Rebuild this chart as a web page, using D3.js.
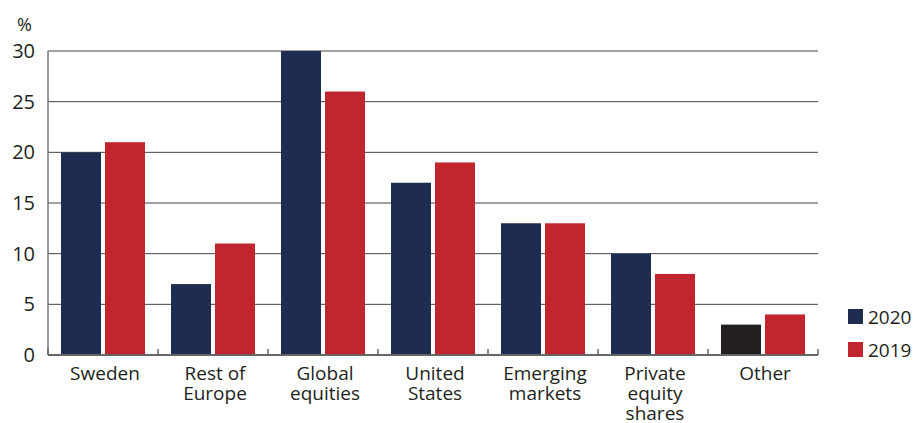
<!DOCTYPE html>
<html>
<head>
<meta charset="utf-8">
<script src="https://cdn.jsdelivr.net/npm/d3@7"></script>
<style>
  body { margin: 0; background: #fff; }
  svg text { font-family: "Open Sans", "Lato", sans-serif; fill: #231f20; }
</style>
</head>
<body>
<svg id="chart" width="918" height="423"></svg>
<script>
var categories = ["Sweden", "Rest of|Europe", "Global|equities", "United|States", "Emerging|markets", "Private|equity|shares", "Other"];
var values2020 = [20, 7, 30, 17, 13, 10, 3];
var values2019 = [21, 11, 26, 19, 13, 8, 4];
var yTicks = [0, 5, 10, 15, 20, 25, 30];
var seriesNames = ["2020", "2019"];

var navy = "#1e2d4f", red = "#c1262e", dark = "#231f20";

var svg = d3.select("#chart");
var plotLeft = 48, plotRight = 818, plotTop = 51, plotBottom = 355;

var x = d3.scaleBand().domain(categories).range([plotLeft, plotRight]).paddingInner(0).paddingOuter(0);
var y = d3.scaleLinear().domain([0, 30]).range([plotBottom, plotTop]);

// grid lines
svg.selectAll(".grid")
  .data(yTicks.filter(function(d) { return d > 0; }))
  .enter().append("line")
  .attr("x1", plotLeft).attr("x2", plotRight)
  .attr("y1", function(d) { return y(d); })
  .attr("y2", function(d) { return y(d); })
  .attr("stroke", "#444").attr("stroke-width", 1);

// y labels
svg.selectAll(".ylab")
  .data(yTicks)
  .enter().append("text")
  .attr("x", 35)
  .attr("y", function(d) { return y(d) + 7; })
  .attr("text-anchor", "end")
  .attr("font-size", 20)
  .text(function(d) { return d; });

svg.append("text").attr("x", 17).attr("y", 31).attr("font-size", 18).text("%");

var barW = 40, gap = 4, pad = 13;

var g = svg.selectAll(".cat").data(categories).enter().append("g");
g.append("rect")
  .attr("x", function(d) { return x(d) + pad; })
  .attr("y", function(d, i) { return y(values2020[i]); })
  .attr("width", barW)
  .attr("height", function(d, i) { return y(0) - y(values2020[i]); })
  .attr("fill", function(d, i) { return d === "Other" ? dark : navy; });
g.append("rect")
  .attr("x", function(d) { return x(d) + pad + barW + gap; })
  .attr("y", function(d, i) { return y(values2019[i]); })
  .attr("width", barW)
  .attr("height", function(d, i) { return y(0) - y(values2019[i]); })
  .attr("fill", red);

// axes
svg.append("line").attr("x1", plotLeft).attr("x2", plotLeft).attr("y1", plotTop).attr("y2", plotBottom)
  .attr("stroke", "#777").attr("stroke-width", 1.5);
svg.append("line").attr("x1", plotLeft).attr("x2", plotRight).attr("y1", plotBottom).attr("y2", plotBottom)
  .attr("stroke", "#666").attr("stroke-width", 2);
var bounds = categories.map(function(d) { return x(d); }).concat([plotRight]);
svg.selectAll(".tick").data(bounds).enter().append("line")
  .attr("x1", function(d) { return d; }).attr("x2", function(d) { return d; })
  .attr("y1", plotBottom - 6).attr("y2", plotBottom)
  .attr("stroke", "#666").attr("stroke-width", 1.5);

// x labels
g.each(function(d) {
  var lines = d.split("|");
  var t = d3.select(this).append("text")
    .attr("text-anchor", "middle")
    .attr("font-size", 19);
  lines.forEach(function(l, k) {
    t.append("tspan").attr("x", x(d) + x.bandwidth() / 2 + 2).attr("y", 380 + k * 20).text(l);
  });
});

// legend
var leg = svg.selectAll(".leg").data(seriesNames).enter().append("g")
  .attr("transform", function(d, i) { return "translate(848," + (309 + i * 33) + ")"; });
leg.append("rect").attr("width", 15).attr("height", 15)
  .attr("fill", function(d, i) { return i === 0 ? navy : red; });
leg.append("text").attr("x", 20).attr("y", 15).attr("font-size", 19).text(function(d) { return d; });
</script>
</body>
</html>
